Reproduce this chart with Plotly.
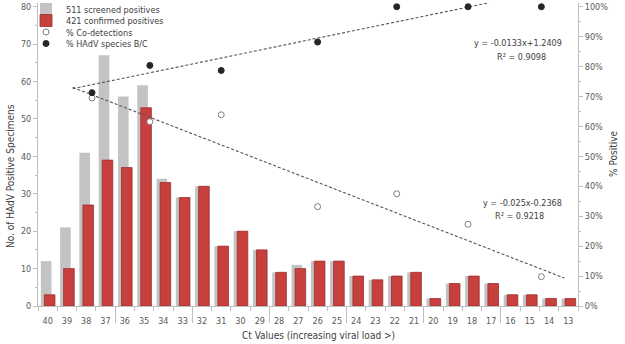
import plotly.graph_objects as go

# ---------------- data ----------------
ct_values = [40, 39, 38, 37, 36, 35, 34, 33, 32, 31, 30, 29, 28, 27,
             26, 25, 24, 23, 22, 21, 20, 19, 18, 17, 16, 15, 14, 13]
ct_labels = [str(c) for c in ct_values]
screened = [12, 21, 41, 67, 56, 59, 34, 29, 32, 16, 20, 15, 9, 11,
            12, 12, 8, 7, 8, 9, 2, 6, 8, 6, 3, 3, 2, 2]
confirmed = [3, 10, 27, 39, 37, 53, 33, 29, 32, 16, 20, 15, 9, 10,
             12, 12, 8, 7, 8, 9, 2, 6, 8, 6, 3, 3, 2, 2]

group_ct = [37.7, 34.7, 31.0, 26.0, 21.9, 18.2, 14.4]
pct_codetect = [0.695, 0.616, 0.639, 0.332, 0.375, 0.273, 0.098]
pct_species_bc = [0.713, 0.804, 0.787, 0.882, 1.0, 1.0, 1.0]

trend_span = [38.7, 13.2]
trend_bc = (-0.0133, 1.2409)       # slope, intercept  (% species B/C)
trend_co = (0.025, -0.2368)        # slope, intercept  (% co-detections)
eq_bc = ["y = -0.0133x+1.2409", "R² = 0.9098"]
eq_co = ["y = -0.025x-0.2368", "R² = 0.9218"]

separators = [36.5, 32.5, 28.5, 24.5, 20.5, 16.5]

legend_names = ["511 screened positives", "421 confirmed positives",
                "% Co-detections", "% HAdV species B/C"]

# ---------------- styling ----------------
FONT = "Liberation Sans Narrow, DejaVu Sans Condensed, Arial Narrow, sans-serif"
TXT = "#595959"
AX = "#bfbfbf"
GREY = "#c3c3c3"
RED = "#c8403e"

fig = go.Figure()

fig.add_trace(go.Bar(
    x=ct_values, y=screened, name=legend_names[0],
    marker=dict(color=GREY, line=dict(width=0)),
    width=0.55, offset=-0.197, legend="legend"))
fig.add_trace(go.Bar(
    x=ct_values, y=confirmed, name=legend_names[1],
    marker=dict(color=RED, line=dict(color="#9a2f2d", width=0.8)),
    width=0.55, offset=-0.379, legend="legend2"))

def line_pts(coef):
    m, b = coef
    return [m * x + b for x in trend_span]

fig.add_trace(go.Scatter(
    x=trend_span, y=line_pts(trend_bc), yaxis="y2", mode="lines",
    line=dict(color="#555555", width=1.1, dash="3px,2px"),
    showlegend=False, hoverinfo="skip"))
fig.add_trace(go.Scatter(
    x=trend_span, y=line_pts(trend_co), yaxis="y2", mode="lines",
    line=dict(color="#555555", width=1.1, dash="3px,2px"),
    showlegend=False, hoverinfo="skip"))

fig.add_trace(go.Scatter(
    x=group_ct, y=pct_codetect, yaxis="y2", mode="markers",
    name=legend_names[2], cliponaxis=False,
    marker=dict(symbol="circle", size=6, color="white",
                line=dict(color="#7f7f7f", width=1)),
    legend="legend3"))
fig.add_trace(go.Scatter(
    x=group_ct, y=pct_species_bc, yaxis="y2", mode="markers",
    name=legend_names[3], cliponaxis=False,
    marker=dict(symbol="circle", size=6, color="#262626",
                line=dict(color="#262626", width=1)),
    legend="legend4"))

# helper trace for the group separator axis
fig.add_trace(go.Scatter(x=[], y=[], xaxis="x3", showlegend=False))

W, H = 625, 344
L, R, T, B = 38, 47, 3, 38
pw, ph = W - L - R, H - T - B

def px_x(p):
    return (p - L) / pw

def px_y(p):
    return 1 - (p - T) / ph

xrange = [40.5, 12.5]

legend_rows = [9, 20.5, 32, 43.5]
legend_common = dict(x=px_x(26), xanchor="left", yanchor="middle",
                     bgcolor="rgba(0,0,0,0)", borderwidth=0,
                     font=dict(family=FONT, size=9, color="#404040"))

fig.update_layout(
    width=W, height=H,
    margin=dict(l=L, r=R, t=T, b=B, autoexpand=False),
    paper_bgcolor="white", plot_bgcolor="white",
    font=dict(family=FONT, size=9, color=TXT),
    barmode="overlay",
    legend=dict(y=px_y(legend_rows[0]), **legend_common),
    legend2=dict(y=px_y(legend_rows[1]), **legend_common),
    legend3=dict(y=px_y(legend_rows[2]), **legend_common),
    legend4=dict(y=px_y(legend_rows[3]), **legend_common),
    xaxis=dict(range=xrange, tickmode="array", tickvals=ct_values,
               ticktext=ct_labels, ticks="", showline=True, linecolor=AX,
               linewidth=1, showgrid=False, zeroline=False,
               ticklabelstandoff=6, automargin=False,
               tickfont=dict(family=FONT, size=9, color=TXT),
               minor=dict(tickmode="linear", tick0=0.5, dtick=1,
                          ticks="outside", ticklen=4, tickcolor=AX)),
    xaxis3=dict(range=xrange, overlaying="x", anchor="y", side="bottom",
                tickmode="array", tickvals=separators, ticks="outside",
                ticklen=16, tickcolor=AX, showticklabels=False,
                showgrid=False, zeroline=False, showline=False,
                automargin=False),
    yaxis=dict(range=[0, 81], tickmode="linear", tick0=0, dtick=10,
               ticks="outside", ticklen=4, tickcolor=AX, showline=True,
               linecolor=AX, showgrid=False, zeroline=False,
               automargin=False,
               tickfont=dict(family=FONT, size=9, color=TXT),
               minor=dict(tickmode="linear", tick0=5, dtick=10,
                          ticks="outside", ticklen=2, tickcolor=AX)),
    yaxis2=dict(range=[0, 1.0125], overlaying="y", side="right",
                tickmode="linear", tick0=0, dtick=0.1, tickformat=".0%",
                ticks="outside", ticklen=4, tickcolor=AX, showline=True,
                linecolor=AX, showgrid=False, zeroline=False,
                automargin=False,
                tickfont=dict(family=FONT, size=9, color=TXT),
                minor=dict(tickmode="linear", tick0=0.05, dtick=0.1,
                           ticks="outside", ticklen=2, tickcolor=AX)),
)

ann_font = dict(family=FONT, size=9, color="#404040")
annotations = [
    dict(text="No. of HAdV Positive Specimens", x=px_x(10), y=px_y(176),
         textangle=-90, font=dict(family=FONT, size=10, color="#404040")),
    dict(text="% Positive", x=px_x(614), y=px_y(154), textangle=-90,
         font=dict(family=FONT, size=10, color="#404040")),
    dict(text="Ct Values (increasing viral load >)", x=px_x(318),
         y=px_y(335), font=dict(family=FONT, size=10, color="#404040")),
    dict(text=eq_bc[0], x=px_x(518), y=px_y(43), font=ann_font),
    dict(text=eq_bc[1], x=px_x(521), y=px_y(57), font=ann_font),
    dict(text=eq_co[0], x=px_x(522), y=px_y(203), font=ann_font),
    dict(text=eq_co[1], x=px_x(519), y=px_y(216), font=ann_font),
]
for a in annotations:
    a.update(xref="paper", yref="paper", showarrow=False,
             xanchor="center", yanchor="middle")
fig.update_layout(annotations=annotations)

fig.write_html("out.html",
               config={"displayModeBar": False},
               post_script="document.body.style.margin='0';"
                           "document.body.style.padding='0';")
